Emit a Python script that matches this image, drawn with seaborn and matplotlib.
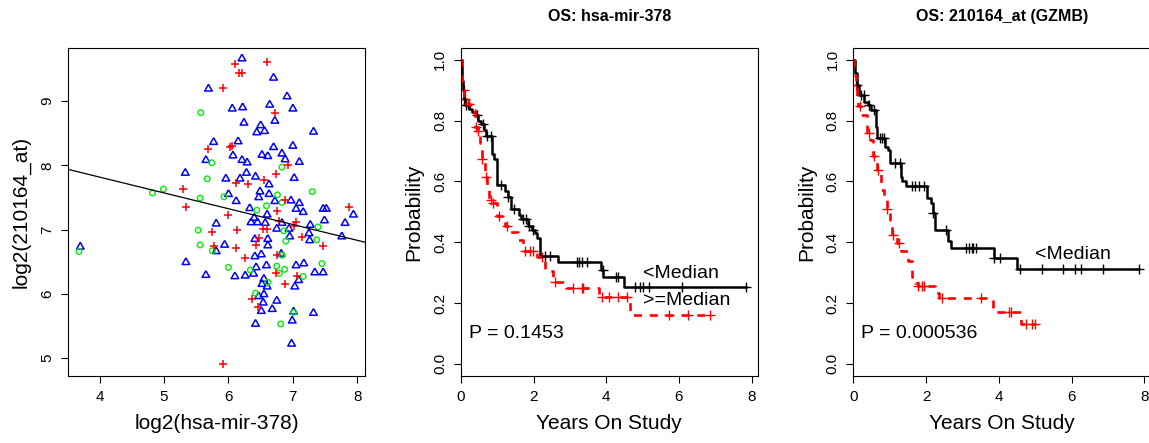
import numpy as np
import pandas as pd
import seaborn as sns
import matplotlib
matplotlib.use("Agg")
from matplotlib import pyplot as plt

# ---- scatter: log2(hsa-mir-378) vs log2(210164_at), three sample groups ----
blue_x = [3.70, 5.33, 5.34, 5.65, 5.65, 5.69, 5.77, 5.81, 5.81, 5.94, 6.00, 6.06, 6.07, 6.10, 6.12,
          6.15, 6.18, 6.21, 6.21, 6.22, 6.24, 6.26, 6.28, 6.29, 6.33, 6.35, 6.39, 6.40, 6.41, 6.42,
          6.42, 6.43, 6.44, 6.45, 6.47, 6.47, 6.49, 6.50, 6.51, 6.51, 6.52, 6.52, 6.54, 6.55, 6.55,
          6.56, 6.57, 6.59, 6.60, 6.60, 6.61, 6.61, 6.61, 6.63, 6.64, 6.68, 6.70, 6.70, 6.72, 6.72,
          6.75, 6.75, 6.83, 6.83, 6.82, 6.88, 6.91, 6.94, 6.95, 6.97, 6.98, 6.99, 7.00, 7.00, 7.01,
          7.02, 7.03, 7.05, 7.05, 7.09, 7.10, 7.10, 7.16, 7.17, 7.25, 7.26, 7.27, 7.32, 7.32, 7.34,
          7.47, 7.47, 7.49, 7.52, 7.76, 7.81, 7.94, 6.41, 5.96, 6.63]
blue_y = [6.73, 7.88, 6.49, 6.29, 8.08, 9.19, 8.36, 7.09, 6.66, 6.76, 7.55, 8.88, 8.15, 6.27, 7.44,
          8.37, 7.79, 9.66, 8.08, 8.90, 8.66, 6.28, 7.88, 8.04, 7.33, 7.11, 6.31, 7.18, 6.85, 7.82,
          5.53, 6.41, 8.51, 7.11, 7.50, 5.96, 7.59, 8.62, 6.61, 5.73, 8.16, 6.15, 5.86, 6.23, 5.99,
          8.53, 7.10, 6.44, 7.23, 6.11, 8.14, 6.85, 6.75, 7.55, 8.94, 5.76, 8.28, 9.36, 7.44, 8.69,
          5.89, 7.01, 8.18, 7.10, 6.62, 8.09, 9.07, 7.01, 6.89, 7.45, 5.22, 5.58, 8.88, 8.30, 5.72,
          7.80, 6.11, 7.32, 6.44, 6.21, 8.05, 7.41, 7.27, 6.47, 6.94, 6.83, 7.07, 5.70, 8.52, 6.33,
          7.32, 6.33, 7.14, 7.32, 6.89, 7.10, 7.23, 6.58, 7.79, 7.70]
red_x = [6.10, 6.60, 6.16, 6.21, 5.91, 6.72, 5.69, 6.03, 6.06, 6.92, 6.74, 6.12, 6.31, 6.55, 5.29,
         5.34, 6.88, 5.99, 6.75, 6.78, 7.05, 7.01, 6.54, 6.60, 5.75, 6.13, 6.48, 6.43, 7.14, 7.47,
         5.78, 6.12, 7.87, 6.25, 6.75, 6.74, 7.06, 6.88, 6.37, 6.46, 5.92]
red_y = [9.58, 9.61, 9.43, 9.44, 9.20, 8.81, 8.25, 8.28, 8.30, 8.00, 7.86, 7.73, 7.71, 7.77, 7.63,
         7.35, 7.46, 7.23, 7.29, 7.13, 7.11, 7.06, 7.01, 7.01, 6.96, 6.99, 6.87, 6.76, 6.89, 6.75,
         6.74, 6.72, 7.35, 6.55, 6.61, 6.32, 6.27, 6.15, 5.92, 5.80, 4.91]
green_x = [3.68, 4.82, 4.99, 5.53, 5.56, 5.56, 5.57, 5.67, 5.74, 5.75, 5.93, 6.00, 6.34, 6.42, 6.44,
           6.59, 6.61, 6.75, 6.76, 6.81, 6.83, 6.83, 6.83, 6.86, 6.87, 7.01, 7.16, 7.30, 7.37, 7.39,
           7.45, 6.89, 6.79]
green_y = [6.66, 7.57, 7.63, 6.99, 7.49, 6.76, 8.82, 7.79, 8.04, 6.67, 7.51, 6.41, 6.37, 6.01, 7.30,
           7.37, 6.18, 6.43, 7.54, 5.53, 7.97, 7.42, 6.60, 6.98, 6.38, 5.71, 6.27, 7.59, 6.84, 7.04,
           6.47, 6.82, 6.32]
fit_intercept = 8.80
fit_slope = -0.246

# ---- Kaplan-Meier curves: step times, survival after each step, censor times ----
mir_low_t = [0, 0.02, 0.05, 0.08, 0.12, 0.22, 0.30, 0.40, 0.48, 0.55, 0.62, 0.68, 0.85, 0.92, 1.00,
             1.22, 1.30, 1.38, 1.60, 1.65, 1.85, 1.95, 2.05, 2.10, 2.18, 2.68, 3.85, 3.92, 4.50, 7.84]
mir_low_s = [1.0, 0.93, 0.90, 0.87, 0.85, 0.84, 0.83, 0.82, 0.80, 0.79, 0.77, 0.75, 0.69, 0.675, 0.59,
             0.57, 0.55, 0.51, 0.49, 0.475, 0.455, 0.44, 0.43, 0.415, 0.355, 0.336, 0.31, 0.287, 0.252, 0.252]
mir_low_cens = [0.09, 0.15, 0.45, 0.60, 0.72, 0.84, 1.10, 1.30, 1.45, 1.70, 1.80, 1.88, 1.97, 2.30,
                2.45, 3.18, 3.26, 3.33, 3.48, 3.90, 4.27, 4.33, 4.80, 4.93, 5.02, 5.18, 6.09, 7.84]
mir_high_t = [0, 0.02, 0.06, 0.09, 0.15, 0.25, 0.38, 0.47, 0.52, 0.58, 0.66, 0.72, 0.78, 0.85, 1.00,
              1.22, 1.35, 1.57, 1.70, 2.10, 2.30, 2.52, 2.90, 3.80, 4.65, 6.85]
mir_high_s = [1.0, 0.93, 0.90, 0.87, 0.855, 0.835, 0.78, 0.765, 0.725, 0.673, 0.616, 0.583, 0.54, 0.528,
              0.485, 0.452, 0.435, 0.408, 0.372, 0.35, 0.304, 0.268, 0.248, 0.221, 0.161, 0.161]
mir_high_cens = [0.08, 0.12, 0.18, 0.22, 0.42, 0.47, 0.58, 0.69, 0.82, 0.88, 1.05, 1.28, 1.75, 1.90,
                 1.97, 2.22, 2.60, 3.09, 3.33, 3.37, 3.87, 4.08, 4.33, 4.58, 5.73, 6.26, 6.85]

gzmb_low_t = [0, 0.04, 0.10, 0.15, 0.30, 0.40, 0.48, 0.61, 0.66, 0.88, 0.95, 1.02, 1.30, 1.35, 1.45,
              2.03, 2.13, 2.19, 2.24, 2.60, 2.68, 3.86, 4.51, 7.86]
gzmb_low_s = [1.0, 0.956, 0.918, 0.885, 0.863, 0.85, 0.836, 0.78, 0.742, 0.715, 0.704, 0.66, 0.616,
              0.60, 0.584, 0.545, 0.528, 0.496, 0.44, 0.405, 0.38, 0.348, 0.311, 0.311]
gzmb_low_cens = [0.11, 0.20, 0.28, 0.43, 0.57, 0.72, 0.78, 0.85, 1.15, 1.28, 1.60, 1.70, 1.80, 1.95,
                 2.20, 2.55, 3.11, 3.18, 3.25, 3.30, 3.38, 3.87, 4.04, 4.57, 5.18, 5.76, 6.10, 6.26,
                 6.85, 7.86]
gzmb_high_t = [0, 0.03, 0.06, 0.10, 0.12, 0.20, 0.38, 0.45, 0.55, 0.65, 0.75, 0.85, 0.92, 1.00, 1.05,
               1.20, 1.32, 1.50, 1.62, 1.70, 1.78, 2.25, 2.35, 3.85, 4.62, 5.00]
gzmb_high_s = [1.0, 0.95, 0.918, 0.88, 0.847, 0.82, 0.76, 0.737, 0.684, 0.638, 0.572, 0.55, 0.509,
               0.468, 0.424, 0.397, 0.37, 0.34, 0.287, 0.265, 0.257, 0.232, 0.216, 0.172, 0.132, 0.132]
gzmb_high_cens = [0.08, 0.18, 0.42, 0.58, 0.68, 0.93, 1.08, 1.25, 1.78, 1.88, 1.93, 2.43, 3.50, 4.27,
                  4.33, 4.75, 4.91, 5.00]

km_titles = ["OS: hsa-mir-378", "OS: 210164_at (GZMB)"]
p_values = ["P = 0.1453", "P = 0.000536"]

sns.set_theme(style="ticks")
plt.rcParams['font.family'] = ['Liberation Sans', 'DejaVu Sans']
plt.rcParams['text.color'] = 'black'
plt.rcParams['axes.labelcolor'] = 'black'
plt.rcParams['axes.edgecolor'] = 'black'
plt.rcParams['axes.linewidth'] = 0.8
plt.rcParams['xtick.major.size'] = 5
plt.rcParams['ytick.major.size'] = 5
plt.rcParams['xtick.major.pad'] = 5
plt.rcParams['ytick.major.pad'] = 5
plt.rcParams['xtick.major.width'] = 0.8
plt.rcParams['ytick.major.width'] = 0.8

fig = plt.figure(figsize=(11.49, 4.43), dpi=100)
ax1 = fig.add_axes([0.0592, 0.1512, 0.2585, 0.7411])
ax2 = fig.add_axes([0.4012, 0.1512, 0.2582, 0.7411])
ax3 = fig.add_axes([0.7427, 0.1512, 0.2585, 0.7411])

# R style open triangle, centred on its centroid
tri = [(0, 1), (0.866, -0.5), (-0.866, -0.5), (0, 1)]

sns.scatterplot(x=blue_x, y=blue_y, marker=tri, s=40, color='blue', facecolors='none',
                edgecolor='blue', linewidth=1.1, ax=ax1)
sns.scatterplot(x=green_x, y=green_y, marker='o', s=16, color='#00ee00', facecolors='none',
                edgecolor='#00ee00', linewidth=1.0, ax=ax1)
sns.scatterplot(x=red_x, y=red_y, marker='+', s=34, color='red', linewidth=1.1, ax=ax1)
ax1.axline((0, fit_intercept), slope=fit_slope, color='black', lw=0.9)
ax1.set_xlim(3.51, 8.12)
ax1.set_ylim(4.72, 9.83)
ax1.set_xticks([4, 5, 6, 7, 8])
ax1.set_yticks([5, 6, 7, 8, 9])
ax1.set_xlabel("log2(hsa-mir-378)", fontsize=15, labelpad=7)
ax1.set_ylabel("log2(210164_at)", fontsize=15, labelpad=7)


def surv_at(t, s, tc):
    idx = np.searchsorted(np.asarray(t), np.asarray(tc), side='right') - 1
    return np.asarray(s)[idx]


km_sets = [
    (ax2, mir_low_t, mir_low_s, mir_low_cens, mir_high_t, mir_high_s, mir_high_cens),
    (ax3, gzmb_low_t, gzmb_low_s, gzmb_low_cens, gzmb_high_t, gzmb_high_s, gzmb_high_cens),
]
for i, (ax, lt, ls, lc, ht, hs, hc) in enumerate(km_sets):
    sns.lineplot(x=lt, y=ls, drawstyle='steps-post', color='black', lw=1.8, ax=ax, sort=False)
    sns.scatterplot(x=lc, y=surv_at(lt, ls, lc), marker='+', s=55, color='black', linewidth=1.0, ax=ax)
    sns.lineplot(x=ht, y=hs, drawstyle='steps-post', color='red', lw=1.9, ax=ax, sort=False,
                 linestyle=(0, (3, 3)))
    sns.scatterplot(x=hc, y=surv_at(ht, hs, hc), marker='+', s=55, color='red', linewidth=1.0, ax=ax)
    ax.set_xlim(0, 8.165)
    ax.set_ylim(-0.04, 1.04)
    ax.set_xticks([0, 2, 4, 6, 8])
    ax.set_yticks([0, 0.2, 0.4, 0.6, 0.8, 1.0])
    ax.set_yticklabels(["0.0", "0.2", "0.4", "0.6", "0.8", "1.0"])
    ax.set_xlabel("Years On Study", fontsize=15, labelpad=7)
    ax.set_ylabel("Probability", fontsize=15, labelpad=7)
    ax.set_title(km_titles[i], fontsize=11.5, fontweight='bold', pad=19)
    ax.text(0.22, 0.099, p_values[i], fontsize=14, ha='left', va='center')

ax2.text(5.0, 0.296, "<Median", fontsize=14, ha='left', va='center')
ax2.text(5.0, 0.207, ">=Median", fontsize=14, ha='left', va='center')
ax3.text(5.0, 0.359, "<Median", fontsize=14, ha='left', va='center')

for ax in (ax1, ax2, ax3):
    for side in ('top', 'right'):
        ax.spines[side].set_visible(True)
    ax.tick_params(labelsize=11, colors='black')
    for lab in ax.get_yticklabels():
        lab.set_rotation(90)
        lab.set_va('center')

fig.savefig("out.png", dpi=100)
